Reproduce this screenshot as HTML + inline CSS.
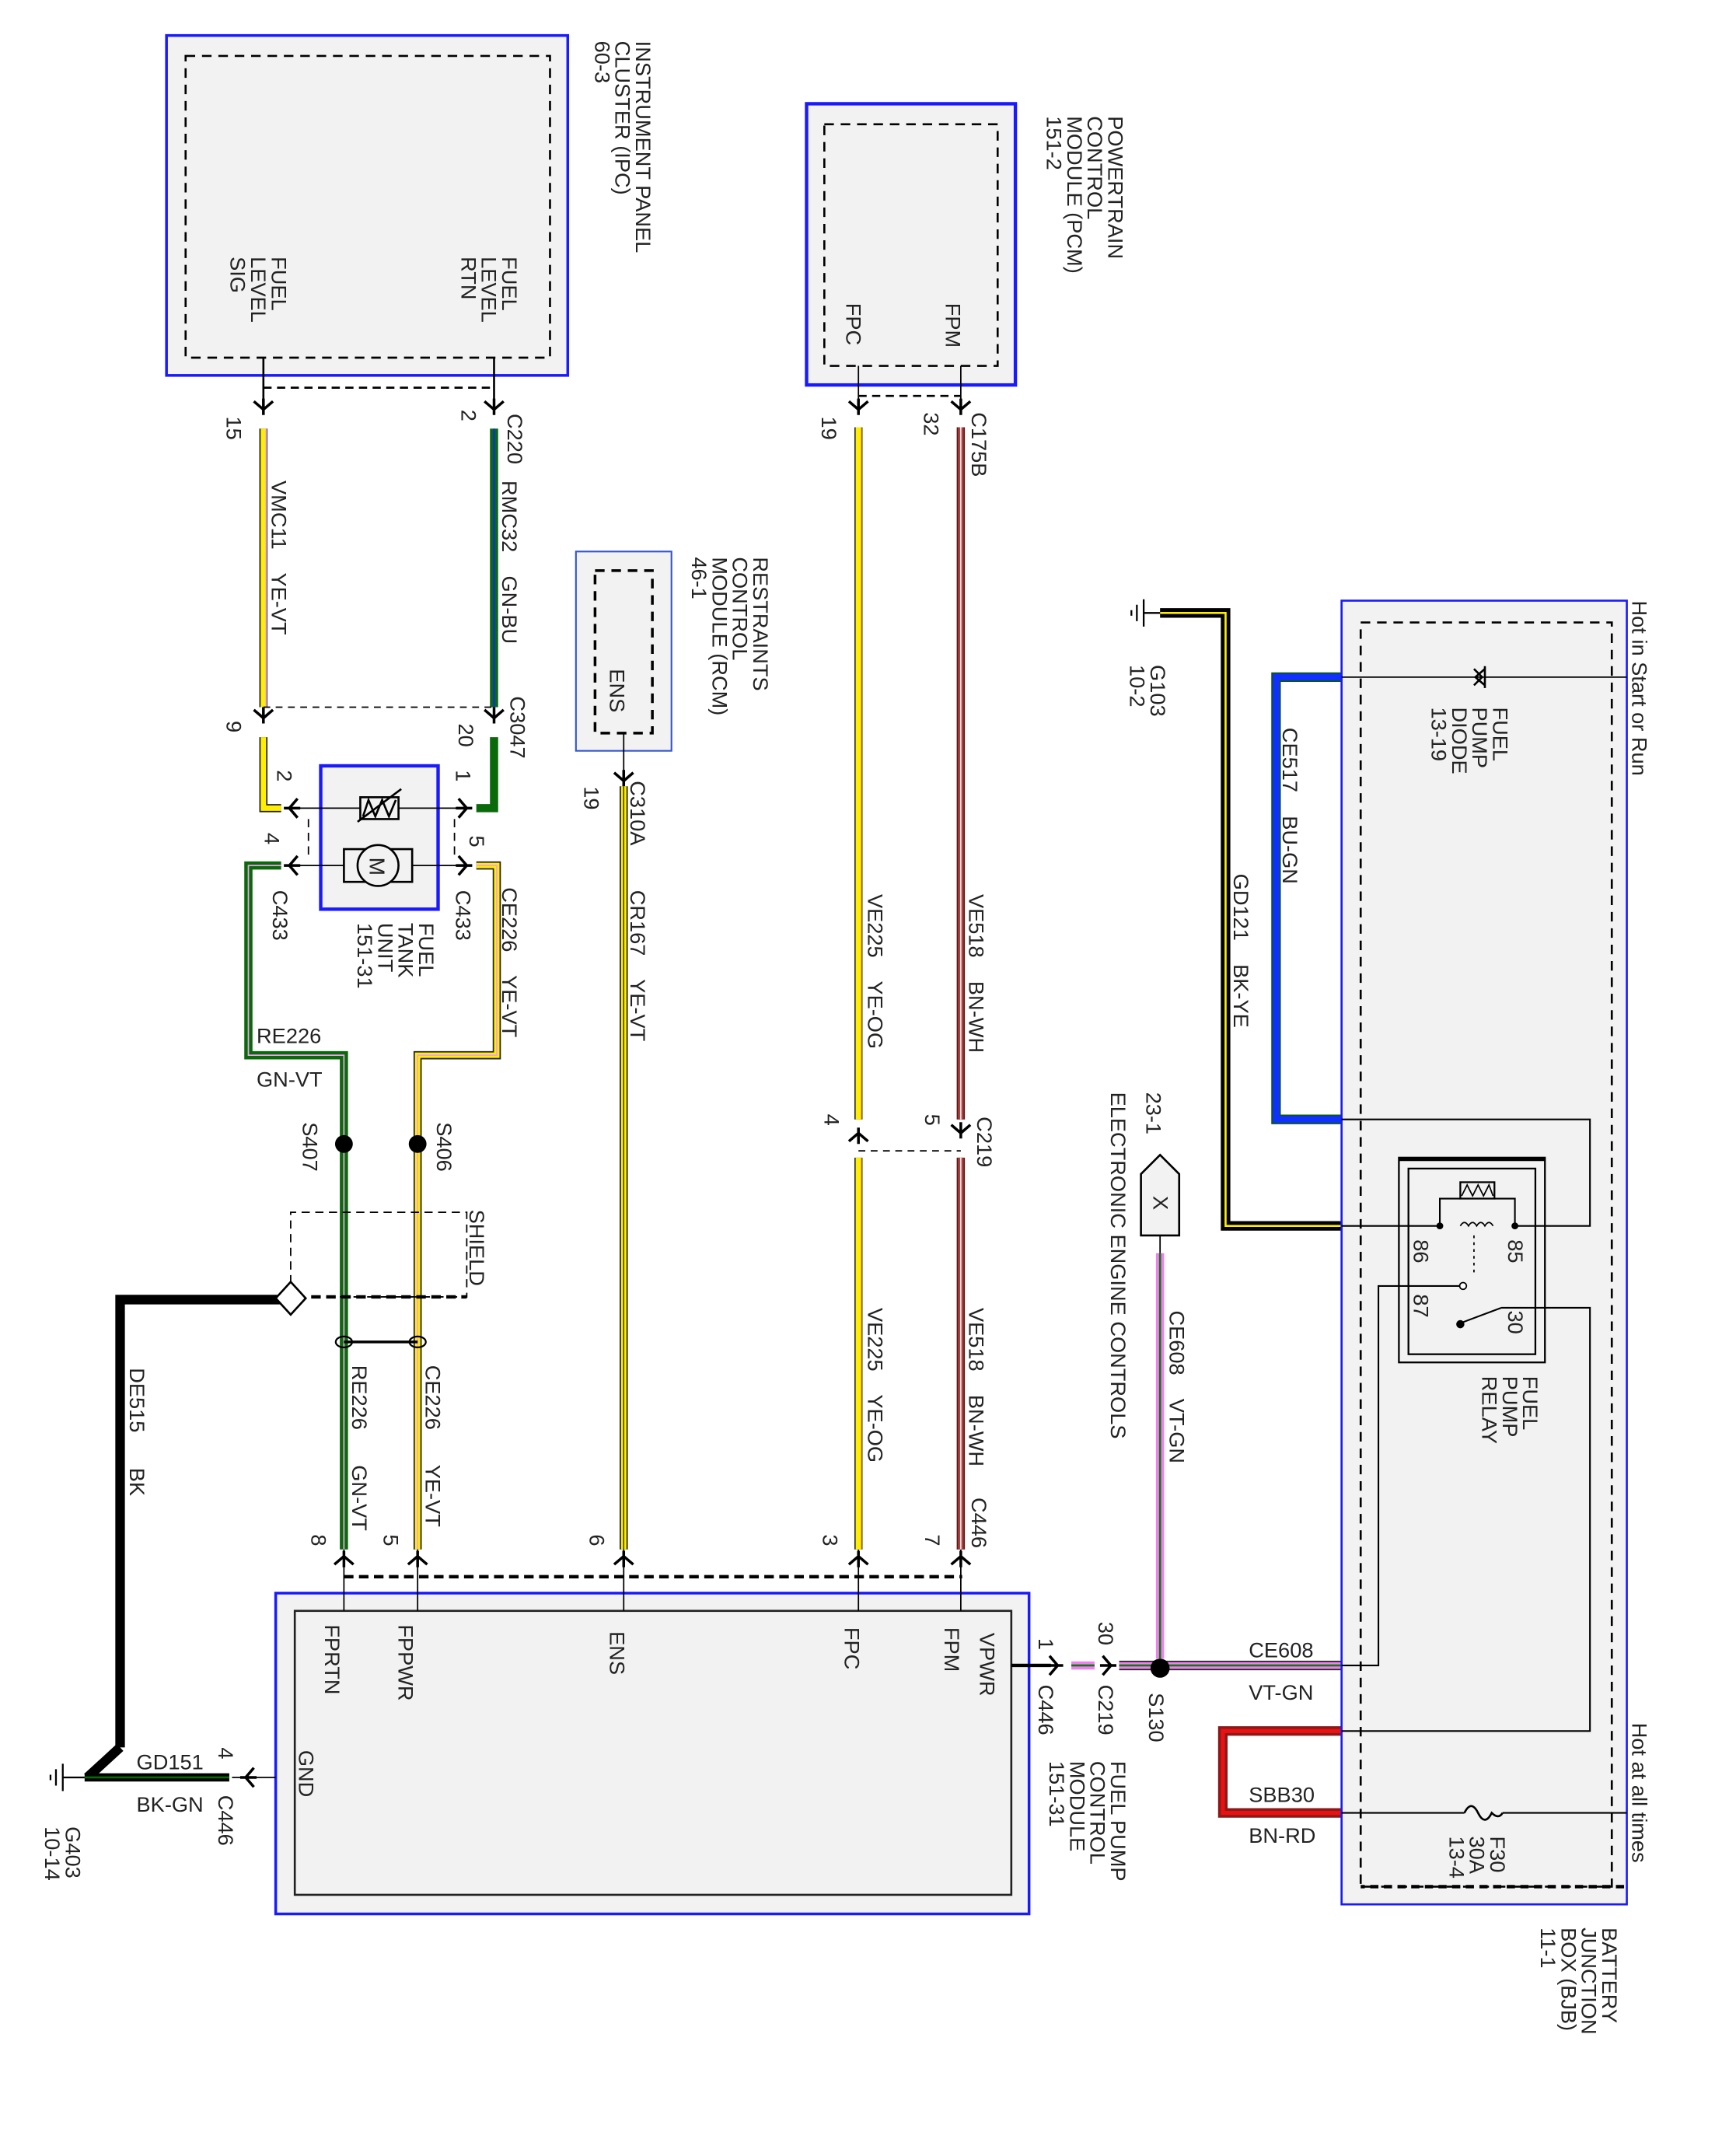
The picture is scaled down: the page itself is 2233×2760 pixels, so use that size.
<!DOCTYPE html>
<html><head><meta charset="utf-8"><style>
html,body{margin:0;padding:0;background:#fff}
svg{display:block}
text{font-family:"Liberation Sans",sans-serif;font-size:15.5px;fill:#222;white-space:pre}
</style></head><body>
<svg width="2233" height="2760" viewBox="0 0 1272 1572" preserveAspectRatio="none" xmlns="http://www.w3.org/2000/svg" xml:space="preserve">
<defs>
<path id="ad" d="M-7,-6 L0,0 L7,-6 M0,-8 L0,4" fill="none" stroke="#000" stroke-width="2"/>
<path id="au" d="M-7,6 L0,0 L7,6 M0,8 L0,-4" fill="none" stroke="#000" stroke-width="2"/>
<path id="ar" d="M-6,-7 L0,0 L-6,7 M-8,0 L4,0" fill="none" stroke="#000" stroke-width="2"/>
<path id="al" d="M6,-7 L0,0 L6,7 M8,0 L-4,0" fill="none" stroke="#000" stroke-width="2"/>
</defs>

<!-- IPC -->
<rect x="122" y="26" width="294" height="249" fill="#f2f2f2" stroke="#1a1aff" stroke-width="2"/>
<rect x="136" y="41" width="267" height="221" fill="none" stroke="#000" stroke-width="1.5" stroke-dasharray="7,5"/>
<text transform="translate(466,30) rotate(90)"><tspan x="0">INSTRUMENT PANEL</tspan><tspan x="0" dy="15">CLUSTER (IPC)</tspan><tspan x="0" dy="15">60-3</tspan></text>
<text transform="translate(368,188) rotate(90)"><tspan x="0">FUEL</tspan><tspan x="0" dy="15">LEVEL</tspan><tspan x="0" dy="15">RTN</tspan></text>
<text transform="translate(199,188) rotate(90)"><tspan x="0">FUEL</tspan><tspan x="0" dy="15">LEVEL</tspan><tspan x="0" dy="15">SIG</tspan></text>
<path d="M193,262V300 M362,262V300" stroke="#000" stroke-width="1.5"/>
<path d="M193,284H362" stroke="#000" stroke-width="1.5" stroke-dasharray="6,4"/>
<use href="#ad" x="193" y="300"/><use href="#ad" x="362" y="300"/>
<text transform="translate(166,305) rotate(90)">15</text>
<text transform="translate(338,300) rotate(90)">2</text>
<text transform="translate(372,303) rotate(90)">C220</text>
<path d="M193,314V518" stroke="#222" stroke-width="6"/><path d="M193,314V518" stroke="#ffee00" stroke-width="4"/><path d="M195,314V518" stroke="#f0a0f0" stroke-width="1"/>
<path d="M362,314V518" stroke="#0a6a0a" stroke-width="6"/><path d="M362,314V518" stroke="#1030e0" stroke-width="1.5"/>
<text transform="translate(199,352) rotate(90)">VMC11    YE-VT</text>
<text transform="translate(368,352) rotate(90)">RMC32    GN-BU</text>
<path d="M193,518H362" stroke="#000" stroke-width="1" stroke-dasharray="5,4"/>
<use href="#ad" x="193" y="526"/><use href="#ad" x="362" y="526"/>
<path d="M193,518V528 M362,518V528" stroke="#000" stroke-width="1.5"/>
<text transform="translate(166,528) rotate(90)">9</text>
<text transform="translate(336,530) rotate(90)">20</text>
<text transform="translate(374,510) rotate(90)">C3047</text>
<path d="M193,540V592H206" fill="none" stroke="#222" stroke-width="6"/><path d="M193,540V592H206" fill="none" stroke="#ffee00" stroke-width="4"/>
<path d="M362,540V592H349" fill="none" stroke="#0a6a0a" stroke-width="6"/>
<text transform="translate(203,564) rotate(90)">2</text>
<text transform="translate(334,564) rotate(90)">1</text>
<text transform="translate(194,610) rotate(90)">4</text>
<text transform="translate(344,612) rotate(90)">5</text>

<!-- Fuel tank unit -->
<rect x="235" y="561" width="86" height="105" fill="#f2f2f2" stroke="#1a1aff" stroke-width="2.5"/>
<path d="M212,592H342 M212,634H342" stroke="#000" stroke-width="1"/>
<rect x="264" y="584" width="28" height="16" fill="#f2f2f2" stroke="#000" stroke-width="1.5"/>
<path d="M266,598L270,586L275,598L280,586L285,598L290,586 M262,602L294,578" fill="none" stroke="#000" stroke-width="1.5"/>
<rect x="252" y="622" width="50" height="24" fill="#f2f2f2" stroke="#000" stroke-width="1.5"/>
<circle cx="277" cy="634" r="15" fill="#f2f2f2" stroke="#000" stroke-width="1.5"/>
<text transform="translate(271,628) rotate(90)" style="font-size:16px">M</text>
<path d="M226,600V630 M333,600V630" stroke="#000" stroke-width="1" stroke-dasharray="6,4"/>
<use href="#al" x="212" y="592"/><use href="#ar" x="342" y="592"/>
<use href="#al" x="212" y="634"/><use href="#ar" x="342" y="634"/>
<text transform="translate(200,652) rotate(90)">C433</text>
<text transform="translate(334,652) rotate(90)">C433</text>
<text transform="translate(307,676) rotate(90)"><tspan x="0">FUEL</tspan><tspan x="0" dy="15">TANK</tspan><tspan x="0" dy="15">UNIT</tspan><tspan x="0" dy="15">151-31</tspan></text>

<path d="M206,634H182V773H252V1135" fill="none" stroke="#0a6a0a" stroke-width="6"/><path d="M206,634H182V773H252V1135" fill="none" stroke="#f0a0f0" stroke-width="1"/>
<path d="M349,634H364V773H306V1135" fill="none" stroke="#222" stroke-width="6"/><path d="M349,634H364V773H306V1135" fill="none" stroke="#ffee00" stroke-width="4"/><path d="M349,634H364V773H306V1135" fill="none" stroke="#f0a0f0" stroke-width="1"/>
<text x="188" y="764">RE226</text>
<text x="188" y="796">GN-VT</text>
<text transform="translate(368,650) rotate(90)">CE226    YE-VT</text>
<circle cx="252" cy="838" r="6.5" fill="#000"/><circle cx="306" cy="838" r="6.5" fill="#000"/>
<text transform="translate(222,822) rotate(90)">S407</text>
<text transform="translate(320,822) rotate(90)">S406</text>
<path d="M213,940V888H342V950H228" fill="none" stroke="#000" stroke-width="1" stroke-dasharray="6,4"/>
<path d="M228,950H342" stroke="#000" stroke-width="2.5" stroke-dasharray="7,4"/>
<text transform="translate(344,886) rotate(90)">SHIELD</text>
<path d="M88,1280V952H213" fill="none" stroke="#000" stroke-width="7"/>
<path d="M88,1280L64,1302" stroke="#000" stroke-width="7"/>
<path d="M213,939L224,951L213,963L202,951Z" fill="#fff" stroke="#000" stroke-width="1.5"/>
<text transform="translate(95,1002) rotate(90)">DE515      BK</text>
<path d="M252,983L306,983" stroke="#000" stroke-width="2"/>
<ellipse cx="252" cy="983" rx="6" ry="4" fill="none" stroke="#000" stroke-width="1.3"/>
<ellipse cx="306" cy="983" rx="6" ry="4" fill="none" stroke="#000" stroke-width="1.3"/>
<text transform="translate(258,1000) rotate(90)">RE226      GN-VT</text>
<text transform="translate(312,1000) rotate(90)">CE226      YE-VT</text>
<text transform="translate(228,1124) rotate(90)">8</text>
<text transform="translate(281,1124) rotate(90)">5</text>
<text transform="translate(432,1124) rotate(90)">6</text>
<text transform="translate(603,1124) rotate(90)">3</text>
<text transform="translate(678,1124) rotate(90)">7</text>
<text transform="translate(712,1097) rotate(90)">C446</text>
<path d="M252,1155H705" stroke="#000" stroke-width="2.5" stroke-dasharray="7,4"/>

<!-- FPCM -->
<rect x="202" y="1167" width="552" height="235" fill="#f2f2f2" stroke="#1a1aff" stroke-width="2"/>
<rect x="216" y="1180" width="525" height="208" fill="#f2f2f2" stroke="#222" stroke-width="1.5"/>
<path d="M252,1135V1180 M306,1135V1180 M457,1135V1180 M629,1135V1180 M704,1135V1180" stroke="#000" stroke-width="1"/>
<use href="#au" x="252" y="1140"/><use href="#au" x="306" y="1140"/><use href="#au" x="457" y="1140"/><use href="#au" x="629" y="1140"/><use href="#au" x="704" y="1140"/>
<text transform="translate(238,1190) rotate(90)">FPRTN</text>
<text transform="translate(292,1190) rotate(90)">FPPWR</text>
<text transform="translate(447,1195) rotate(90)">ENS</text>
<text transform="translate(619,1192) rotate(90)">FPC</text>
<text transform="translate(692,1192) rotate(90)">FPM</text>
<text transform="translate(718,1196) rotate(90)">VPWR</text>
<text transform="translate(219,1282) rotate(90)">GND</text>
<text transform="translate(814,1290) rotate(90)"><tspan x="0">FUEL PUMP</tspan><tspan x="0" dy="15">CONTROL</tspan><tspan x="0" dy="15">MODULE</tspan><tspan x="0" dy="15">151-31</tspan></text>
<path d="M170,1302H202" stroke="#000" stroke-width="1"/>
<use href="#al" x="180" y="1302"/>
<path d="M62,1302H168" stroke="#000" stroke-width="6"/><path d="M62,1302H168" stroke="#0a6a0a" stroke-width="1.5"/>
<path d="M62,1302H46 M46,1292V1312 M41,1296V1308 M37,1300V1304" stroke="#000" stroke-width="1.3"/>
<text x="100" y="1296">GD151</text>
<text x="100" y="1327">BK-GN</text>
<text transform="translate(160,1280) rotate(90)">4</text>
<text transform="translate(160,1315) rotate(90)">C446</text>
<text transform="translate(48,1338) rotate(90)"><tspan x="0">G403</tspan><tspan x="0" dy="15">10-14</tspan></text>

<!-- RCM -->
<rect x="422" y="404" width="70" height="146" fill="#f2f2f2" stroke="#3355cc" stroke-width="1.2"/>
<rect x="436" y="418" width="42" height="119" fill="none" stroke="#000" stroke-width="2" stroke-dasharray="7,5"/>
<text transform="translate(447,490) rotate(90)">ENS</text>
<path d="M457,537V572" stroke="#000" stroke-width="1"/>
<use href="#ad" x="457" y="572"/>
<text transform="translate(428,576) rotate(90)">19</text>
<text transform="translate(462,572) rotate(90)">C310A</text>
<text transform="translate(552,408) rotate(90)"><tspan x="0">RESTRAINTS</tspan><tspan x="0" dy="15">CONTROL</tspan><tspan x="0" dy="15">MODULE (RCM)</tspan><tspan x="0" dy="15">46-1</tspan></text>
<path d="M457,576V1135" stroke="#222" stroke-width="6"/><path d="M457,576V1135" stroke="#ffee00" stroke-width="4"/><path d="M457,576V1135" stroke="#222" stroke-width="0.8"/>
<text transform="translate(462,652) rotate(90)">CR167    YE-VT</text>

<!-- PCM -->
<rect x="591" y="76" width="153" height="206" fill="#f2f2f2" stroke="#1a1aff" stroke-width="2.5"/>
<rect x="604" y="91" width="127" height="177" fill="none" stroke="#000" stroke-width="1.5" stroke-dasharray="7,5"/>
<text transform="translate(620,222) rotate(90)">FPC</text>
<text transform="translate(693,222) rotate(90)">FPM</text>
<text transform="translate(812,85) rotate(90)"><tspan x="0">POWERTRAIN</tspan><tspan x="0" dy="15">CONTROL</tspan><tspan x="0" dy="15">MODULE (PCM)</tspan><tspan x="0" dy="15">151-2</tspan></text>
<path d="M629,268V300 M704,268V300" stroke="#000" stroke-width="1"/>
<path d="M629,290H704" stroke="#000" stroke-width="1.5" stroke-dasharray="6,4"/>
<use href="#ad" x="629" y="300"/><use href="#ad" x="704" y="300"/>
<text transform="translate(602,305) rotate(90)">19</text>
<text transform="translate(677,302) rotate(90)">32</text>
<text transform="translate(712,302) rotate(90)">C175B</text>
<path d="M629,313V820 M629,848V1135" stroke="#333" stroke-width="6"/><path d="M629,313V820 M629,848V1135" stroke="#ffee00" stroke-width="4"/><path d="M631,313V820 M631,848V1135" stroke="#ffb000" stroke-width="0.8"/>
<path d="M704,313V820 M704,848V1135" stroke="#5a1a1a" stroke-width="6"/><path d="M704,313V820 M704,848V1135" stroke="#b04040" stroke-width="4"/><path d="M704,313V820 M704,848V1135" stroke="#fff" stroke-width="0.8"/>
<text transform="translate(636,655) rotate(90)">VE225    YE-OG</text>
<text transform="translate(710,655) rotate(90)">VE518    BN-WH</text>
<text transform="translate(636,958) rotate(90)">VE225    YE-OG</text>
<text transform="translate(710,958) rotate(90)">VE518    BN-WH</text>
<use href="#au" x="629" y="830"/><use href="#ad" x="704" y="830"/>
<path d="M629,843H704" stroke="#000" stroke-width="1" stroke-dasharray="5,4"/>
<text transform="translate(604,816) rotate(90)">4</text>
<text transform="translate(678,816) rotate(90)">5</text>
<text transform="translate(716,818) rotate(90)">C219</text>

<!-- VPWR line -->
<path d="M741,1220H770" stroke="#000" stroke-width="2.5"/>
<use href="#ar" x="775" y="1220"/>
<path d="M785,1220H802" stroke="#f080f0" stroke-width="6"/><path d="M785,1220H802" stroke="#0a7a0a" stroke-width="1.5"/>
<use href="#ar" x="814" y="1220"/>
<path d="M820,1220H983" stroke="#222" stroke-width="7"/><path d="M820,1220H983" stroke="#f080f0" stroke-width="5"/><path d="M820,1220H983" stroke="#0a7a0a" stroke-width="1.5"/>
<path d="M850,918V1215" stroke="#f080f0" stroke-width="6"/><path d="M850,918V1215" stroke="#0a7a0a" stroke-width="1.5"/>
<path d="M850,905V918" stroke="#000" stroke-width="1"/>
<circle cx="850" cy="1222" r="7" fill="#000"/>
<text transform="translate(761,1200) rotate(90)">1</text>
<text transform="translate(761,1234) rotate(90)">C446</text>
<text transform="translate(805,1188) rotate(90)">30</text>
<text transform="translate(805,1234) rotate(90)">C219</text>
<text transform="translate(842,1240) rotate(90)">S130</text>
<text x="915" y="1214">CE608</text>
<text x="915" y="1245">VT-GN</text>
<text transform="translate(857,960) rotate(90)">CE608    VT-GN</text>
<path d="M836,860L850,846L864,860V905H836Z" fill="#f2f2f2" stroke="#000" stroke-width="1.5"/>
<text transform="translate(845,876) rotate(90)">X</text>
<text transform="translate(840,800) rotate(90)">23-1</text>
<text transform="translate(814,800) rotate(90)">ELECTRONIC ENGINE CONTROLS</text>

<!-- G103 -->
<path d="M850,449H898V898H983" fill="none" stroke="#000" stroke-width="7"/><path d="M850,449H898V898H983" fill="none" stroke="#ffee00" stroke-width="1.5"/>
<path d="M850,449H838 M838,439V459 M833,443V455 M829,447V451" stroke="#000" stroke-width="1.3"/>
<text transform="translate(843,487) rotate(90)"><tspan x="0">G103</tspan><tspan x="0" dy="15">10-2</tspan></text>
<text transform="translate(904,640) rotate(90)">GD121    BK-YE</text>
<path d="M983,496H935V820H983" fill="none" stroke="#0a5a0a" stroke-width="7"/><path d="M983,496H935V820H983" fill="none" stroke="#1030ff" stroke-width="5"/>
<text transform="translate(940,533) rotate(90)">CE517    BU-GN</text>
<path d="M983,1268H896V1328H983" fill="none" stroke="#8a1a1a" stroke-width="7"/><path d="M983,1268H896V1328H983" fill="none" stroke="#ee1010" stroke-width="3"/>
<text x="915" y="1320">SBB30</text>
<text x="915" y="1350">BN-RD</text>

<!-- BJB -->
<rect x="983" y="440" width="209" height="955" fill="#f2f2f2" stroke="#1a1aff" stroke-width="1.5"/>
<rect x="997" y="456" width="184" height="926" fill="none" stroke="#000" stroke-width="1.5" stroke-dasharray="7,5"/>
<path d="M1190,1382H997" stroke="#000" stroke-width="2.5" stroke-dasharray="6,4"/>
<text transform="translate(1196,440) rotate(90)">Hot in Start or Run</text>
<text transform="translate(1196,1262) rotate(90)">Hot at all times</text>
<text transform="translate(1174,1412) rotate(90)"><tspan x="0">BATTERY</tspan><tspan x="0" dy="15">JUNCTION</tspan><tspan x="0" dy="15">BOX (BJB)</tspan><tspan x="0" dy="15">11-1</tspan></text>
<path d="M983,496H1192" stroke="#000" stroke-width="1"/>
<path d="M1080,490L1086,496L1080,502 M1088,488V504 M1088,490L1081,496L1088,502" fill="none" stroke="#000" stroke-width="1.5"/>
<text transform="translate(1094,518) rotate(90)"><tspan x="0">FUEL</tspan><tspan x="0" dy="15">PUMP</tspan><tspan x="0" dy="15">DIODE</tspan><tspan x="0" dy="15">13-19</tspan></text>
<rect x="1025" y="848" width="107" height="150" fill="#f2f2f2" stroke="#000" stroke-width="1.3"/>
<path d="M1025,849H1132" stroke="#000" stroke-width="3"/>
<rect x="1032" y="856" width="93" height="136" fill="none" stroke="#000" stroke-width="1.3"/>
<path d="M983,820H1165V898H1110 M983,898H1055 M1055,898V878H1070 M1095,878H1110V898" fill="none" stroke="#000" stroke-width="1.2"/>
<rect x="1070" y="866" width="25" height="12" fill="#f2f2f2" stroke="#000" stroke-width="1.3"/>
<path d="M1071,876L1075,868L1079,876L1083,868L1087,876L1091,868L1094,876" fill="none" stroke="#000" stroke-width="1"/>
<path d="M1070,898q3,-5 6,0q3,-5 6,0q3,-5 6,0q3,-5 6,0" fill="none" stroke="#000" stroke-width="1"/>
<circle cx="1055" cy="898" r="2.5" fill="#000"/><circle cx="1110" cy="898" r="2.5" fill="#000"/>
<path d="M1080,905V935" stroke="#000" stroke-width="1" stroke-dasharray="2,3"/>
<circle cx="1072" cy="942" r="2.5" fill="#fff" stroke="#000"/>
<path d="M1068,970L1100,958 M1100,958H1165V1268H983 M1070,942H1010V1220H983" fill="none" stroke="#000" stroke-width="1.2"/>
<circle cx="1070" cy="970" r="3" fill="#000"/>
<text transform="translate(1036,908) rotate(90)">86</text>
<text transform="translate(1105,908) rotate(90)">85</text>
<text transform="translate(1036,948) rotate(90)">87</text>
<text transform="translate(1105,960) rotate(90)">30</text>
<text transform="translate(1116,1008) rotate(90)"><tspan x="0">FUEL</tspan><tspan x="0" dy="15">PUMP</tspan><tspan x="0" dy="15">RELAY</tspan></text>
<path d="M983,1328H1073 M1101,1328H1192" stroke="#000" stroke-width="1.2"/>
<path d="M1073,1328q5,-10 10,0t10,0q5,5 8,0" fill="none" stroke="#000" stroke-width="1.5"/>
<text transform="translate(1092,1345) rotate(90)"><tspan x="0">F30</tspan><tspan x="0" dy="15">30A</tspan><tspan x="0" dy="15">13-4</tspan></text>
</svg>
</body></html>
